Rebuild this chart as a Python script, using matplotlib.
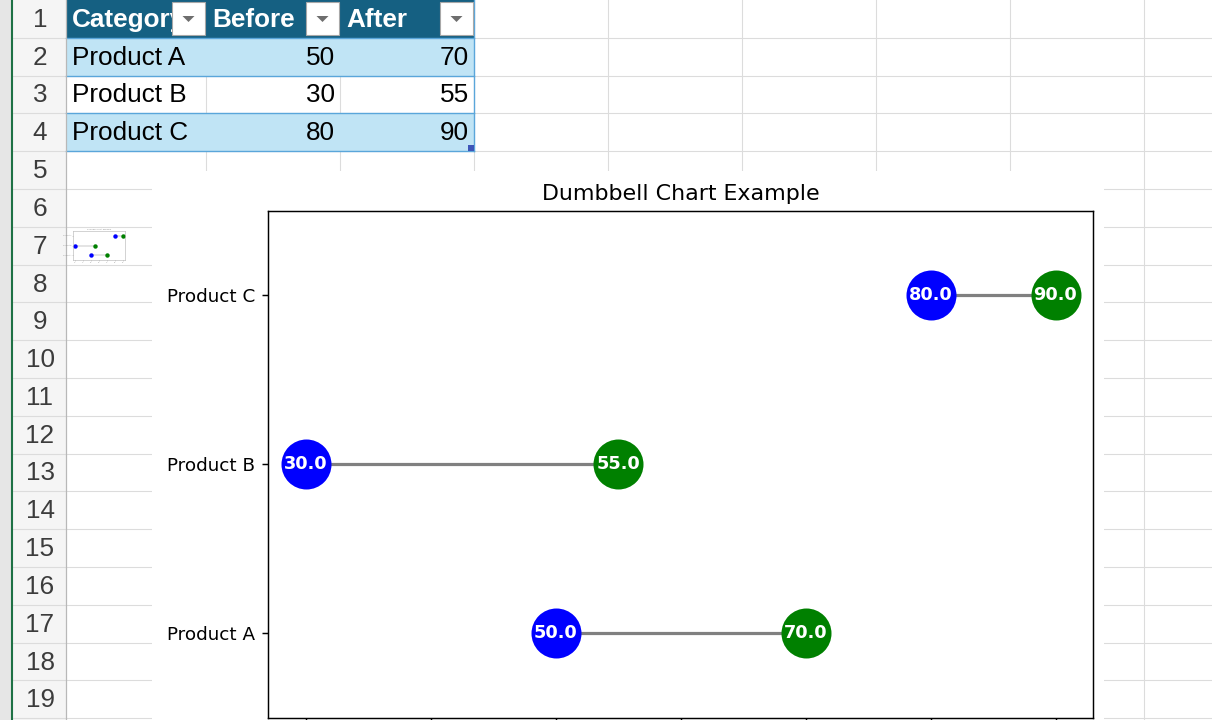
import matplotlib
matplotlib.use("Agg")
import matplotlib.pyplot as plt
from matplotlib.patches import Rectangle, Polygon

# ---------------- data ----------------
header = ["Category", "Before", "After"]
categories = ["Product A", "Product B", "Product C"]
before = [50, 30, 80]
after = [70, 55, 90]
row_numbers = list(range(1, 20))
chart_title = "Dumbbell Chart Example"
x_ticks = [30, 40, 50, 60, 70, 80, 90]

# ---------------- geometry (pixels) ----------------
W, H = 1212, 720
ROW_H = 37.8
COL_EDGES = [66, 206, 340, 474, 608, 742, 876, 1010, 1144, 1278]
CELL_FONT = "Liberation Sans"
CELL_FS = 18.8

fig = plt.figure(figsize=(W / 100, H / 100), dpi=100)
bg = fig.add_axes([0, 0, 1, 1])
bg.set_xlim(0, W)
bg.set_ylim(H, 0)
bg.axis("off")

# left window strip and row header
bg.add_patch(Rectangle((0, 0), 11, H, fc="#e6e6e6", ec="none", zorder=1))
bg.add_patch(Rectangle((13, 0), 53, H, fc="#f5f5f5", ec="none", zorder=1))
bg.plot([12, 12], [0, H], color="#1e7145", lw=1.5, zorder=5)
bg.plot([66, 66], [0, H], color="#b8b8b8", lw=0.9, zorder=5)

n_rows = len(row_numbers)
# grid lines
for i in range(1, n_rows + 1):
    y = i * ROW_H
    bg.plot([13, W], [y, y], color="#dcdcdc", lw=0.8, zorder=2)
for x in COL_EDGES[1:]:
    bg.plot([x, x], [0, H], color="#dcdcdc", lw=0.8, zorder=2)

# row numbers
for i, r in enumerate(row_numbers):
    bg.text(40, (i + 0.5) * ROW_H + 1, str(r), ha="center", va="center",
            fontsize=CELL_FS, color="#3c3c3c", family=CELL_FONT, zorder=6)

# ---------------- table ----------------
t_left, t_right = COL_EDGES[0], COL_EDGES[3]
bg.add_patch(Rectangle((t_left, 0), t_right - t_left, ROW_H, fc="#156082",
                       ec="none", zorder=3))
for j in range(len(categories)):
    if j % 2 == 0:
        bg.add_patch(Rectangle((t_left, (j + 1) * ROW_H), t_right - t_left,
                               ROW_H, fc="#c0e4f5", ec="none", zorder=3))
for k in range(1, len(categories) + 2):
    bg.plot([t_left, t_right], [k * ROW_H, k * ROW_H], color="#5aa6da",
            lw=1.0, zorder=4)
bg.plot([t_right, t_right], [0, (len(categories) + 1) * ROW_H],
        color="#5aa6da", lw=1.0, zorder=4)

# header text + dropdown buttons
for c, name in enumerate(header):
    x0, x1 = COL_EDGES[c], COL_EDGES[c + 1]
    bg.text(x0 + 6, ROW_H / 2 + 1, name, ha="left", va="center",
            fontsize=CELL_FS, fontweight="bold", color="white",
            family=CELL_FONT, zorder=6)
    bx0, bx1 = x1 - 34, x1 - 1
    bg.add_patch(Rectangle((bx0, 2), bx1 - bx0, 33, fc="white", ec="#a8a8a8",
                           lw=0.8, zorder=7))
    cx = (bx0 + bx1) / 2
    bg.add_patch(Polygon([[cx - 6, 16], [cx + 6, 16], [cx, 22]], closed=True,
                         fc="#6e6e6e", ec="none", zorder=8))

# data cells
for j, cat in enumerate(categories):
    yc = (j + 1.5) * ROW_H + 1
    bg.text(COL_EDGES[0] + 6, yc, cat, ha="left", va="center",
            fontsize=CELL_FS, color="black", family=CELL_FONT, zorder=6)
    bg.text(COL_EDGES[2] - 5, yc, str(before[j]), ha="right", va="center",
            fontsize=CELL_FS, color="black", family=CELL_FONT, zorder=6)
    bg.text(COL_EDGES[3] - 5, yc, str(after[j]), ha="right", va="center",
            fontsize=CELL_FS, color="black", family=CELL_FONT, zorder=6)
# resize handle
bg.add_patch(Rectangle((t_right - 6, 4 * ROW_H - 6), 6, 6, fc="#3d55b8",
                       ec="none", zorder=8))

# chart picture background
bg.add_patch(Rectangle((152, 171), 1104 - 152, H - 171, fc="white",
                       ec="none", zorder=9))


def fig_rect(l, t, r, b):
    return [l / W, 1 - b / H, (r - l) / W, (b - t) / H]


def draw_dumbbell(ax, msize, lw, label_fs, tick_fs, title_fs, spine_w,
                  tick_len, show_values, show_xlabels,
                  frame_color="black", tick_color="black"):
    ypos = list(range(len(categories)))
    for i in ypos:
        ax.plot([before[i], after[i]], [i, i], color="#808080", lw=lw, zorder=1)
    ax.scatter(before, ypos, s=msize ** 2, color="blue", zorder=2,
               linewidths=0)
    ax.scatter(after, ypos, s=msize ** 2, color="green", zorder=2,
               linewidths=0)
    if show_values:
        for i in ypos:
            ax.text(before[i], i, f"{float(before[i]):.1f}", ha="center",
                    va="center", color="white", fontweight="bold",
                    fontsize=label_fs, zorder=3)
            ax.text(after[i], i, f"{float(after[i]):.1f}", ha="center",
                    va="center", color="white", fontweight="bold",
                    fontsize=label_fs, zorder=3)
    ax.set_yticks(ypos)
    ax.set_yticklabels(categories)
    ax.set_xticks(x_ticks)
    ax.set_xlim(27, 93)
    ax.set_ylim(-0.5, 2.5)
    ax.tick_params(labelsize=tick_fs, length=tick_len, width=spine_w,
                   pad=tick_len, colors=tick_color)
    if not show_xlabels:
        ax.tick_params(axis="x", labelbottom=False)
    for s in ax.spines.values():
        s.set_linewidth(spine_w)
        s.set_color(frame_color)
    ax.set_title(chart_title, fontsize=title_fs, pad=title_fs * 0.5)


ax = fig.add_axes(fig_rect(268, 211, 1093, 717.5))
ax.set_zorder(10)
# x tick labels fall below the visible screenshot area
draw_dumbbell(ax, msize=36, lw=2.3, label_fs=12.8, tick_fs=13.2,
              title_fs=15.9, spine_w=1.05, tick_len=4.6, show_values=True,
              show_xlabels=False)

# tiny thumbnail copy of chart in cell A7
axt = fig.add_axes(fig_rect(73, 231, 125, 260))
axt.set_zorder(10)
draw_dumbbell(axt, msize=3.2, lw=0.3, label_fs=1, tick_fs=1.3, title_fs=1.4,
              spine_w=0.4, tick_len=0.6, show_values=False, show_xlabels=True,
              frame_color="#b0b0b0", tick_color="#9a9a9a")
axt.title.set_color("#8a8a8a")

fig.savefig("out.png", dpi=100)
